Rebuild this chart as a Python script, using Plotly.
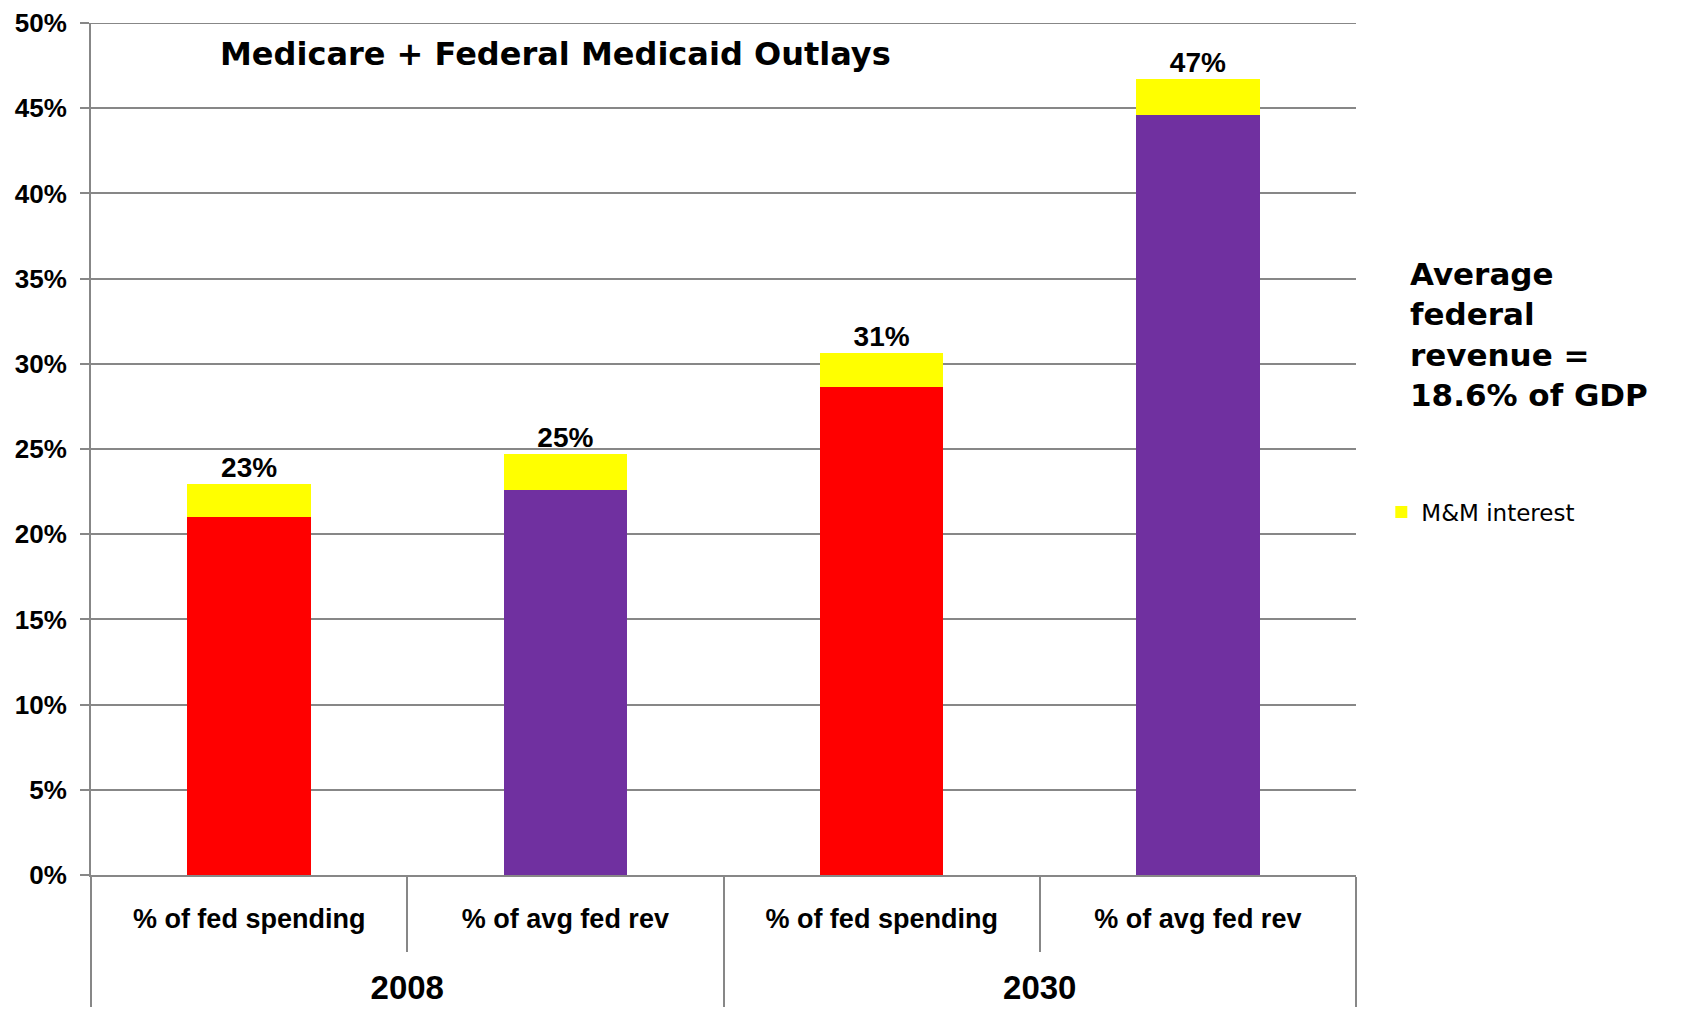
import plotly.graph_objects as go

years = ["2008", "2008", "2030", "2030"]
measures = ["% of fed spending", "% of avg fed rev", "% of fed spending", "% of avg fed rev"]
base_values = [21.0, 22.6, 28.65, 44.6]
interest_values = [1.95, 2.1, 2.0, 2.1]
base_colors = ["#FF0000", "#7030A0", "#FF0000", "#7030A0"]
y_tick_values = [0, 5, 10, 15, 20, 25, 30, 35, 40, 45, 50]
y_tick_labels = ["0%", "5%", "10%", "15%", "20%", "25%", "30%", "35%", "40%", "45%", "50%"]

totals = [b + i for b, i in zip(base_values, interest_values)]
total_labels = [f"{round(t)}%" for t in totals]
year_labels = [f"<br><span style='font-size:33px'>{y}</span>" for y in years]
measure_labels = [f"<span style='font-size:27px'>{m}</span>" for m in measures]

x = [year_labels, measure_labels]
fig = go.Figure()
fig.add_trace(go.Bar(x=x, y=base_values, marker=dict(color=base_colors, line=dict(width=0)),
                     width=0.39, showlegend=False, name="Outlays"))
fig.add_trace(go.Bar(x=x, y=interest_values, marker=dict(color="#FFFF00", line=dict(width=0)),
                     width=0.39, name="M&M interest"))
fig.add_trace(go.Scatter(x=x, y=totals, mode="text", text=total_labels,
                         textposition="top center", showlegend=False,
                         textfont=dict(family="Liberation Sans", size=28, weight="bold", color="black")))

fig.update_layout(
    width=1665, height=1001,
    barmode="stack",
    plot_bgcolor="white", paper_bgcolor="white",
    margin=dict(l=83, r=317, t=15, b=134, autoexpand=False),
    font=dict(family="Liberation Sans", color="black"),
    legend=dict(x=1.02, y=0.426, xanchor="left", yanchor="middle",
                font=dict(family="DejaVu Sans", size=23, color="black"),
                bgcolor="rgba(0,0,0,0)", itemwidth=30),
    shapes=[dict(type="line", xref="paper", yref="y", x0=0, x1=1, y0=50, y1=50,
                 line=dict(color="#878787", width=2), layer="below")],
)
fig.update_yaxes(range=[0, 50], tickvals=y_tick_values, ticktext=y_tick_labels,
                 showgrid=True, gridcolor="#878787", gridwidth=2,
                 showline=True, linecolor="#878787", linewidth=2,
                 ticks="outside", ticklen=9, tickcolor="#878787", tickwidth=2,
                 ticklabelstandoff=8, ticklabeloverflow="allow",
                 tickfont=dict(family="Liberation Sans", size=26, weight="bold", color="black"),
                 zeroline=False)
fig.update_xaxes(showline=True, linecolor="#878787", linewidth=2,
                 ticks="outside", tickson="boundaries", ticklen=75, tickcolor="#878787", tickwidth=2,
                 showdividers=True, dividercolor="#878787", dividerwidth=2,
                 ticklabelstandoff=8, ticklabeloverflow="allow",
                 tickfont=dict(family="Liberation Sans", size=36, weight="bold", color="black"))

fig.add_annotation(text="Medicare + Federal Medicaid Outlays", xref="paper", yref="paper",
                   x=0.367, y=0.964, xanchor="center", yanchor="middle", showarrow=False,
                   font=dict(family="DejaVu Sans", size=32, weight="bold", color="black"))
fig.add_annotation(text="Average<br>federal<br>revenue =<br>18.6% of GDP", xref="paper", yref="paper",
                   x=1.041, y=0.634, xanchor="left", yanchor="middle", showarrow=False, align="left",
                   font=dict(family="DejaVu Sans", size=31, weight="bold", color="black"))

fig.write_html("out.html")
